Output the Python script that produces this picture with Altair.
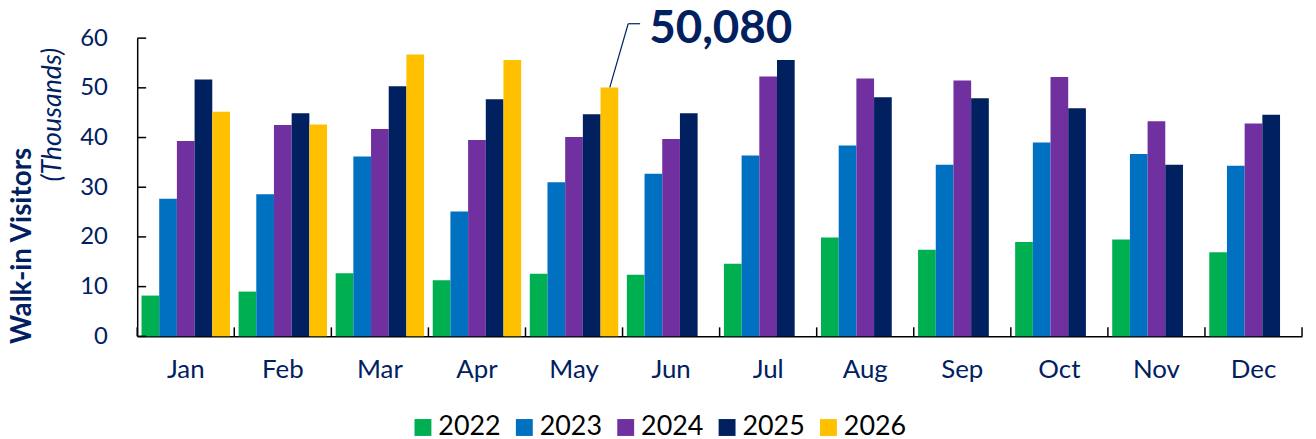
import altair as alt
import pandas as pd

months = ["Jan", "Feb", "Mar", "Apr", "May", "Jun", "Jul", "Aug", "Sep", "Oct", "Nov", "Dec"]
years = ["2022", "2023", "2024", "2025", "2026"]
colors = ["#00B050", "#0070C0", "#7030A0", "#002060", "#FFC000"]

v2022 = [8.2, 9.0, 12.7, 11.3, 12.6, 12.4, 14.6, 19.9, 17.4, 19.0, 19.5, 16.9]
v2023 = [27.7, 28.6, 36.2, 25.1, 31.0, 32.7, 36.4, 38.4, 34.5, 39.0, 36.7, 34.3]
v2024 = [39.3, 42.5, 41.7, 39.5, 40.1, 39.7, 52.3, 51.9, 51.5, 52.2, 43.3, 42.8]
v2025 = [51.7, 44.9, 50.3, 47.7, 44.7, 44.9, 55.6, 48.1, 47.9, 45.9, 34.5, 44.6]
v2026 = [45.2, 42.6, 56.7, 55.6, 50.08, None, None, None, None, None, None, None]

y_ticks = [0, 10, 20, 30, 40, 50, 60]
callout_month = "May"
callout_year = "2026"
callout_value = 50.08
callout_label = "50,080"

NAVY = "#002060"
FONT = "Lato"

series = {"2022": v2022, "2023": v2023, "2024": v2024, "2025": v2025, "2026": v2026}
rows = []
for yr, vals in series.items():
    for m, v in zip(months, vals):
        if v is not None:
            rows.append({"month": m, "year": yr, "value": v})
df = pd.DataFrame(rows)

x_enc = alt.X("month:N", sort=months, title=None,
              scale=alt.Scale(paddingInner=0, paddingOuter=0),
              axis=alt.Axis(title=None, ticks=False, labelFontSize=26, labelFont=FONT,
                            labelColor=NAVY, labelPadding=20, labelAngle=0,
                            domainColor="black", domainWidth=1.5))
xo_enc = alt.XOffset("year:N", sort=years,
                     scale=alt.Scale(paddingInner=0, paddingOuter=0.244))

bars = alt.Chart(df).mark_bar().encode(
    x=x_enc,
    xOffset=xo_enc,
    y=alt.Y("value:Q", title=None, scale=alt.Scale(domain=[0, 60], nice=False),
            axis=alt.Axis(title=None, values=y_ticks, ticks=False, grid=False,
                          labelFontSize=24, labelFont=FONT, labelColor=NAVY,
                          labelPadding=30, domainColor="black", domainWidth=1.5)),
    color=alt.Color("year:N", sort=years,
                    scale=alt.Scale(domain=years, range=colors),
                    legend=alt.Legend(title=None, orient="none", direction="horizontal",
                                      legendX=274, legendY=378, symbolType="square",
                                      symbolSize=289, symbolStrokeWidth=0,
                                      labelFontSize=27, labelFont=FONT, labelColor="black",
                                      labelOffset=2, columnPadding=10, padding=0)),
)

# inward category ticks on the x axis
xt = alt.Chart(pd.DataFrame({"month": months})).mark_rule(color="black", strokeWidth=1.5).encode(
    x=alt.X("month:N", sort=months, bandPosition=0),
    y=alt.value(300), y2=alt.value(291))
xt_end = alt.Chart(pd.DataFrame({"month": [months[-1]]})).mark_rule(color="black", strokeWidth=1.5).encode(
    x=alt.X("month:N", sort=months, bandPosition=1),
    y=alt.value(300), y2=alt.value(291))

# inward ticks on the y axis
yt = alt.Chart(pd.DataFrame({"value": y_ticks})).mark_rule(color="black", strokeWidth=1.5).encode(
    y=alt.Y("value:Q"), x=alt.value(0), x2=alt.value(9))

# callout
cdf = pd.DataFrame({"month": [callout_month], "year": [callout_year],
                    "value": [callout_value], "label": [callout_label]})
callout = alt.Chart(cdf).mark_text(align="left", baseline="alphabetic", dx=40, dy=-45,
                                   fontSize=46, fontWeight="bold", font=FONT, color=NAVY).encode(
    x=alt.X("month:N", sort=months),
    xOffset=alt.XOffset("year:N", sort=years),
    y=alt.Y("value:Q"),
    text="label:N")

one = pd.DataFrame({"k": [0]})
lead1 = alt.Chart(one).mark_rule(color=NAVY, strokeWidth=1.2).encode(
    x=alt.value(475.5), y=alt.value(49.6), x2=alt.value(494), y2=alt.value(-14.5))
lead2 = alt.Chart(one).mark_rule(color=NAVY, strokeWidth=1.2).encode(
    x=alt.value(494), y=alt.value(-14.5), x2=alt.value(506))

# y-axis titles
t1 = alt.Chart(pd.DataFrame({"t": ["Walk-in Visitors"]})).mark_text(
    angle=270, align="center", baseline="alphabetic", fontSize=28, fontWeight="bold",
    font=FONT, color=NAVY).encode(x=alt.value(-107), y=alt.value(209), text="t:N")
t2 = alt.Chart(pd.DataFrame({"t": ["(Thousands)"]})).mark_text(
    angle=270, align="center", baseline="alphabetic", fontSize=27, fontStyle="italic",
    font=FONT, color=NAVY).encode(x=alt.value(-77), y=alt.value(77), text="t:N")

chart = alt.layer(bars, xt, xt_end, yt, callout, lead1, lead2, t1, t2).properties(
    width=1172, height=300,
    autosize=alt.AutoSizeParams(type="none"),
    padding={"left": 130, "top": 29, "right": 6, "bottom": 102},
    background="white",
).configure_view(stroke=None)

chart.save("out.html", embed_options={"renderer": "svg", "actions": False})
